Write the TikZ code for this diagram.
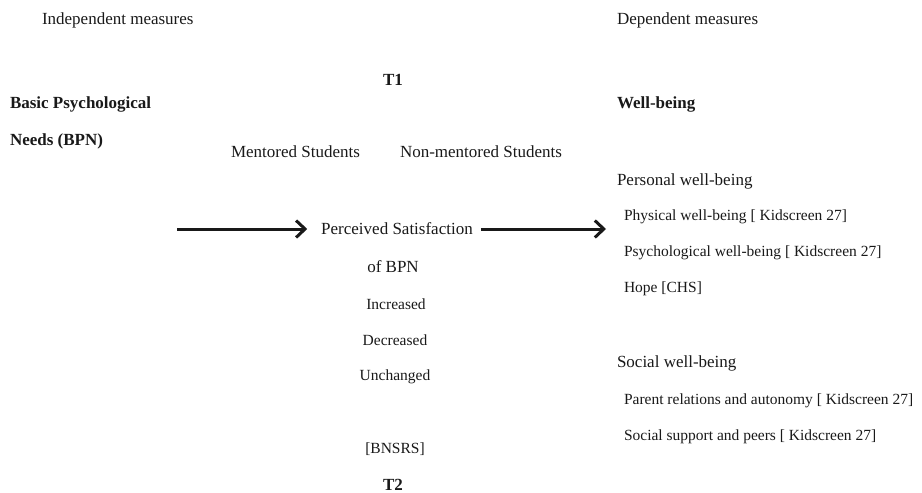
\documentclass[tikz,border=0pt]{standalone}
\usepackage{fontspec}
\setmainfont{Liberation Serif}
\usetikzlibrary{arrows.meta}
\begin{document}
\begin{tikzpicture}[x=1pt,y=-1pt,
  every node/.style={inner sep=0pt,outer sep=0pt,text=black!90},
  big/.style={font=\fontsize{17}{20}\selectfont},
  bigb/.style={font=\fontsize{17}{20}\selectfont\bfseries},
  small/.style={font=\fontsize{15.5}{18}\selectfont},
  lt/.style={anchor=west},
  flow/.style={line width=3pt,black!90,-{Straight Barb[length=9pt,width=17pt,line width=3pt]}}]
\useasboundingbox (0,0) rectangle (922,493);
% headers
\node[big,lt] (ind) at (42,20) {Independent measures};
\node[big,lt] (dep) at (617,20) {Dependent measures};
\node[bigb] (t1) at (393,80) {T1};
\node[bigb,lt] (bpn1) at (10,104) {Basic Psychological};
\node[bigb,lt] (bpn2) at (10,141) {Needs (BPN)};
\node[bigb,lt] (wb) at (617,104) {Well-being};
\node[big,lt] (ment) at (231,152) {Mentored Students};
\node[big,lt] (nment) at (400,152) {Non-mentored Students};
% centre column
\node[big] (ps) at (397,229) {Perceived Satisfaction};
\node[big] (of) at (393,267) {of BPN};
\node[small] (inc) at (396,304) {Increased};
\node[small] (dec) at (395,340) {Decreased};
\node[small] (unc) at (395,377) {Unchanged};
\node[small] (bns) at (395,449) {[BNSRS]};
\node[bigb] (t2) at (393,485) {T2};
% right column
\node[big,lt] (pers) at (617,181) {Personal well-being};
\node[small,lt] (phys) at (624,217) {Physical well-being [ Kidscreen 27]};
\node[small,lt] (psy) at (624,253) {Psychological well-being [ Kidscreen 27]};
\node[small,lt] (hope) at (624,289) {Hope [CHS]};
\node[big,lt] (soc) at (617,363) {Social well-being};
\node[small,lt] (par) at (624,401) {Parent relations and autonomy [ Kidscreen 27]};
\node[small,lt] (sup) at (624,437) {Social support and peers [ Kidscreen 27]};
% arrows
\coordinate (a1s) at (177,229);
\coordinate (a2e) at (606,229);
\draw[flow,shorten >=14pt] (a1s) -- (ps.west);
\draw[flow,shorten <=8pt] (ps.east) -- (a2e);
\end{tikzpicture}
\end{document}
